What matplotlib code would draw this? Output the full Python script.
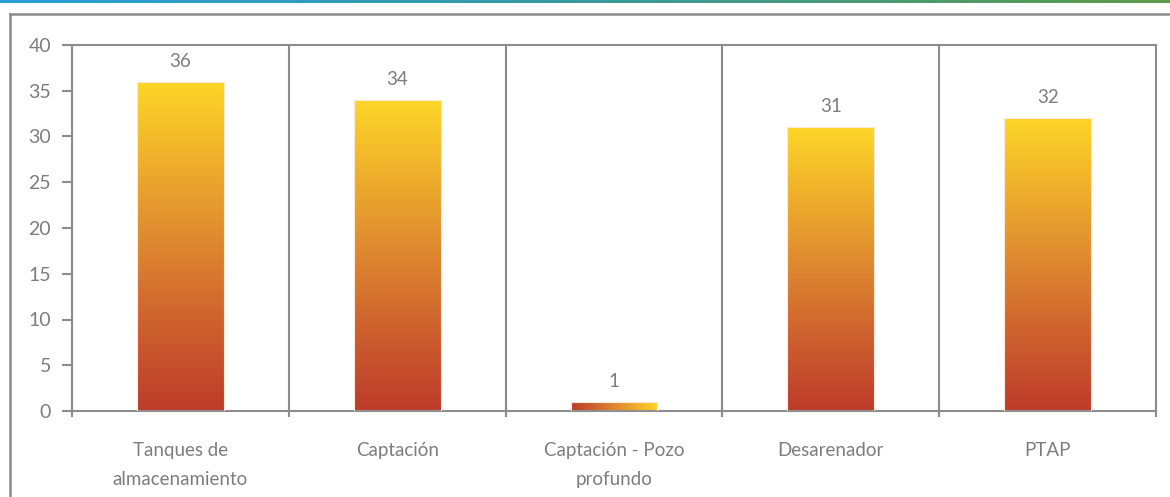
import numpy as np
import matplotlib
matplotlib.use("Agg")
import matplotlib.pyplot as plt
from matplotlib.colors import LinearSegmentedColormap
from matplotlib.lines import Line2D

categories = ["Tanques de\nalmacenamiento", "Captación", "Captación - Pozo\nprofundo", "Desarenador", "PTAP"]
values = [36, 34, 1, 31, 32]
yticks = [0, 5, 10, 15, 20, 25, 30, 35, 40]

plt.rcParams['font.family'] = ['Lato', 'DejaVu Sans']

W, H = 1170, 497
fig = plt.figure(figsize=(W / 100, H / 100), dpi=100)

# top gradient strip
strip = fig.add_axes([0, 1 - 3 / H, 1, 3 / H])
strip.axis("off")
strip_cmap = LinearSegmentedColormap.from_list("strip", ["#2a9ed8", "#3a9aa0", "#5f9a4a"])
strip.imshow(np.linspace(0, 1, 256)[None, :], aspect="auto", cmap=strip_cmap, extent=[0, 1, 0, 1])

# outer frame lines
frame_c = "#8c8c8c"
fig.add_artist(Line2D([10 / W, 1.0], [1 - 14 / H, 1 - 14 / H], color=frame_c, lw=1.8, transform=fig.transFigure))
fig.add_artist(Line2D([10 / W, 10 / W], [0, 1 - 14 / H], color=frame_c, lw=1.8, transform=fig.transFigure))

ax = fig.add_axes([72 / W, 1 - 411 / H, (1156 - 72) / W, (411 - 45) / H])
n = len(categories)
x = np.arange(n)
bw = 0.40
bars = ax.bar(x, values, width=bw, color="none", edgecolor="#fbe9d6", linewidth=0.8, zorder=3)

txt_c = "#7d7d7d"
grad_cmap = LinearSegmentedColormap.from_list(
    "bar", ["#bd3b2a", "#cd5f2e", "#dd8630", "#eeae2c", "#fdd627"])
for b, v in zip(bars, values):
    x0, w = b.get_x(), b.get_width()
    if v < 3:
        img = np.linspace(0, 1, 256)[None, :]
    else:
        img = np.linspace(0, 1, 256)[:, None]
    im = ax.imshow(img, aspect="auto", cmap=grad_cmap, origin="lower",
                   extent=[x0, x0 + w, 0, v], zorder=2)
    im.set_clip_path(b)
    ax.text(x0 + w / 2, v + 1.3, f"{v}", ha="center", va="bottom",
            fontsize=13.5, color=txt_c)

ax.set_xlim(-0.5, n - 0.5)
ax.set_ylim(0, 40)
ax.set_aspect("auto")

grey = "#8c8c8c"
for s in ax.spines.values():
    s.set_color(grey)
    s.set_linewidth(1.5)

for b in np.arange(0.5, n - 0.5, 1):
    ax.axvline(b, color=grey, lw=1.5, zorder=1)

ax.set_yticks(yticks)
ax.set_yticklabels([str(t) for t in yticks], fontsize=14, color=txt_c)
ax.tick_params(axis="y", length=7, width=1.5, color=grey, pad=8)

ax.set_xticks(np.arange(-0.5, n, 1))
ax.set_xticklabels([])
ax.tick_params(axis="x", which="major", length=8, width=1.5, color=grey, direction="inout")
ax.set_xticks(x, minor=True)
ax.set_xticklabels(categories, minor=True, fontsize=13.5, color=txt_c, linespacing=1.9)
ax.tick_params(axis="x", which="minor", length=0, pad=22)

fig.savefig("out.png", dpi=100)
